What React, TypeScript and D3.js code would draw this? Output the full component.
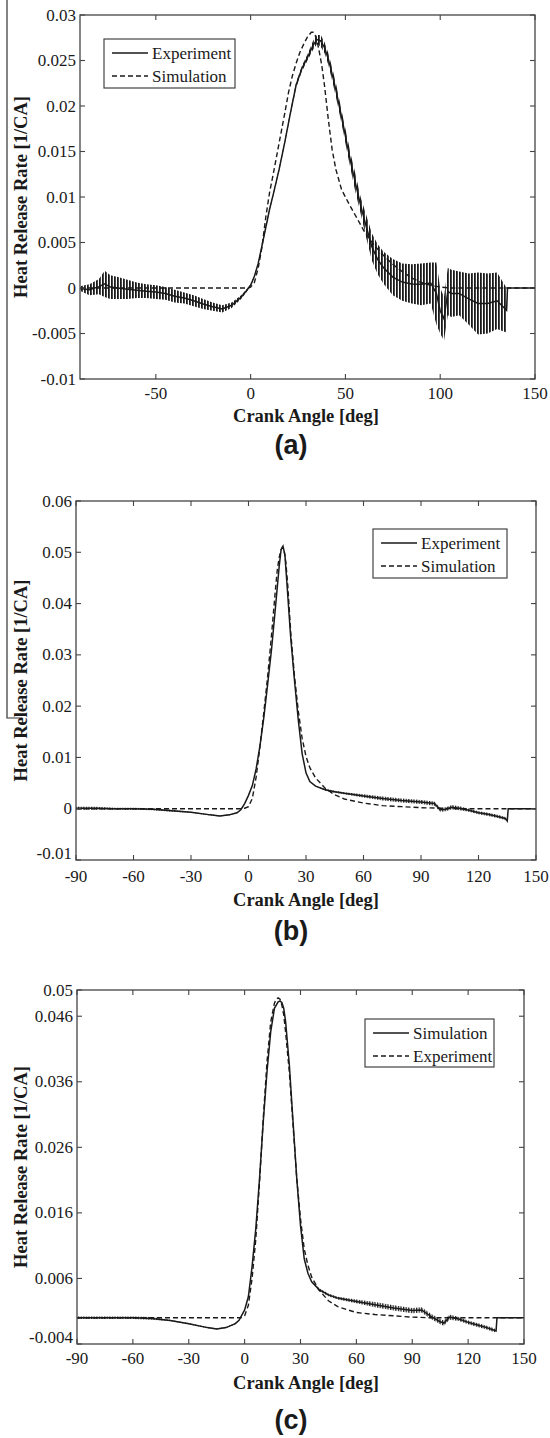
import React from "react";
import * as d3 from "d3";

// ---------------- Panel (a) ----------------
const aExpX = [-90, -85, -80, -77, -74, -70, -65, -60, -55, -50, -45, -40, -35, -30, -25, -20, -15, -10, -5, -2, 0, 2, 4, 6, 8, 10, 12, 15, 18, 21, 24, 27, 30, 33, 35, 37, 39, 41, 43, 45, 47, 49, 51, 53, 55, 58, 61, 64, 67, 70, 75, 80, 85, 90, 95, 98, 100, 102, 104, 106, 110, 115, 120, 125, 130, 135, 135.5, 150];
const aExpLo = [-0.0003, -0.0008, -0.0007, -0.001, -0.0012, -0.0012, -0.0012, -0.0011, -0.0011, -0.0012, -0.0013, -0.0016, -0.0017, -0.002, -0.0023, -0.0025, -0.0027, -0.0022, -0.0012, -0.0004, 0.0002, 0.0012, 0.0026, 0.0045, 0.0065, 0.0085, 0.0102, 0.0128, 0.0158, 0.019, 0.022, 0.0238, 0.025, 0.0262, 0.0268, 0.0265, 0.0258, 0.0245, 0.0228, 0.021, 0.019, 0.017, 0.0148, 0.0128, 0.0108, 0.0082, 0.0055, 0.003, 0.0015, 0.0005, -0.0008, -0.0014, -0.0017, -0.0019, -0.0017, -0.004, -0.005, -0.0058, -0.003, -0.0032, -0.003, -0.004, -0.0051, -0.005, -0.0045, -0.0049, 0, 0];
const aExpHi = [0.0002, 0.0004, 0.001, 0.0019, 0.0014, 0.0012, 0.0009, 0.0006, 0.0004, 0.0003, 0.0001, -0.0002, -0.0005, -0.0008, -0.0012, -0.0016, -0.0019, -0.0016, -0.0008, -0.0001, 0.0004, 0.0014, 0.0028, 0.0048, 0.0068, 0.0088, 0.0105, 0.0132, 0.0162, 0.0195, 0.0226, 0.0244, 0.0257, 0.0272, 0.0278, 0.0278, 0.027, 0.0258, 0.0242, 0.0225, 0.0205, 0.0185, 0.0165, 0.0145, 0.0128, 0.01, 0.008, 0.006, 0.0048, 0.004, 0.0032, 0.0027, 0.0026, 0.0027, 0.0028, 0.0028, 0, -0.001, 0.0022, 0.002, 0.0018, 0.0016, 0.0017, 0.0016, 0.0017, 0, 0, 0];
const aSimX = [-90, -2, 0, 2, 4, 6, 8, 10, 12, 14, 16, 18, 20, 22, 24, 26, 28, 30, 32, 33, 34, 35, 36, 37.5, 39, 41, 43, 45, 48, 52, 56, 60, 63, 66, 70, 75, 80, 85, 90, 95, 100, 105, 150];
const aSimY = [0, 0, 0.0001, 0.0006, 0.0022, 0.0045, 0.0078, 0.0105, 0.0126, 0.0148, 0.017, 0.0192, 0.0215, 0.0233, 0.0247, 0.0259, 0.0268, 0.0276, 0.0281, 0.0281, 0.0278, 0.0272, 0.0262, 0.0245, 0.0222, 0.0185, 0.0152, 0.013, 0.0108, 0.0092, 0.0077, 0.0062, 0.0053, 0.0045, 0.0036, 0.0026, 0.0018, 0.0011, 0.0006, 0.0003, 0.0001, 0, 0];
const aXTicks = [-50, 0, 50, 100, 150];
const aYTicks = [-0.01, -0.005, 0, 0.005, 0.01, 0.015, 0.02, 0.025, 0.03];
const aLegend = ["Experiment", "Simulation"];

// ---------------- Panel (b) ----------------
const bExpX = [-90, -80, -70, -60, -50, -40, -30, -20, -15, -10, -6, -4, -2, 0, 2, 4, 6, 8, 10, 12, 14, 16, 17, 18, 19, 20, 22, 24, 26, 28, 30, 32, 35, 40, 45, 50, 60, 70, 80, 90, 97, 100, 103, 106, 110, 115, 120, 125, 130, 134, 135, 135.5, 150];
const bExpY = [0.0001, 0.0001, 0, 0, -0.0001, -0.0004, -0.0007, -0.0012, -0.0014, -0.0012, -0.0008, -0.0002, 0.001, 0.0026, 0.0045, 0.0078, 0.0123, 0.0178, 0.0243, 0.031, 0.039, 0.0472, 0.0505, 0.0512, 0.0495, 0.0442, 0.0335, 0.025, 0.0172, 0.0107, 0.007, 0.0053, 0.0044, 0.0037, 0.0033, 0.003, 0.0025, 0.002, 0.0016, 0.0013, 0.001, -0.0002, -0.0001, 0.0003, 0.0001, -0.0003, -0.0008, -0.0011, -0.0015, -0.0019, -0.0024, 0, 0];
const bExpJitter = [0.0003, 0.0003, 0.0002, 0.0002, 0.0002, 0.0002, 0.0001, 0.0001, 0.0001, 0.0001, 0.0001, 0, 0, 0, 0, 0, 0, 0, 0, 0, 0, 0, 0, 0, 0, 0, 0, 0, 0, 0, 0, 0, 0, 0.0002, 0.0002, 0.0002, 0.0003, 0.0004, 0.0004, 0.0004, 0.0004, 0.0004, 0.0004, 0.0004, 0.0004, 0.0003, 0.0003, 0.0003, 0.0003, 0.0003, 0, 0, 0];
const bSimX = [-90, -4, -2, 0, 2, 4, 6, 8, 10, 12, 14, 15, 16, 17, 17.7, 18.5, 19.5, 20.5, 22, 24, 26, 28, 30, 32, 35, 40, 45, 50, 60, 70, 80, 90, 100, 110, 150];
const bSimY = [0, 0, 0.0001, 0.0004, 0.002, 0.0062, 0.0122, 0.0188, 0.0258, 0.0338, 0.0425, 0.0465, 0.049, 0.0505, 0.051, 0.0505, 0.048, 0.0435, 0.0345, 0.0258, 0.019, 0.0137, 0.0102, 0.008, 0.006, 0.004, 0.0027, 0.0019, 0.0011, 0.0006, 0.0004, 0.0002, 0.0001, 0, 0];
const bXTicks = [-90, -60, -30, 0, 30, 60, 90, 120, 150];
const bYTicks = [-0.01, 0, 0.01, 0.02, 0.03, 0.04, 0.05, 0.06];
const bLegend = ["Experiment", "Simulation"];

// ---------------- Panel (c) ----------------
const cSolidX = [-90, -80, -70, -60, -50, -40, -30, -20, -15, -10, -5, -3, 0, 2, 4, 6, 8, 10, 12, 14, 16, 18, 19, 20, 21, 22, 24, 26, 28, 30, 32, 34, 36, 40, 45, 50, 60, 70, 80, 90, 95, 100, 105, 107, 110, 115, 120, 125, 130, 134, 135, 135.5, 150];
const cSolidY = [0, 0, 0, 0, -0.0001, -0.0004, -0.0009, -0.0015, -0.0017, -0.0015, -0.0009, -0.0004, 0.0012, 0.0032, 0.0078, 0.0136, 0.0212, 0.0299, 0.0375, 0.0436, 0.0472, 0.0482, 0.0483, 0.0481, 0.0472, 0.0452, 0.0386, 0.0299, 0.0212, 0.0141, 0.009, 0.0068, 0.0055, 0.0043, 0.0035, 0.003, 0.0025, 0.002, 0.0015, 0.0011, 0.0012, 0.0002, -0.0006, -0.0008, 0.0001, -0.0002, -0.0007, -0.0011, -0.0015, -0.0019, -0.002, 0, 0];
const cSolidJitter = [0.0002, 0.0002, 0.0002, 0.0002, 0.0002, 0.0001, 0.0001, 0.0001, 0.0001, 0.0001, 0.0001, 0, 0, 0, 0, 0, 0, 0, 0, 0, 0, 0, 0, 0, 0, 0, 0, 0, 0, 0, 0, 0, 0, 0.0002, 0.0002, 0.0002, 0.0003, 0.0004, 0.0004, 0.0004, 0.0004, 0.0004, 0.0004, 0.0004, 0.0004, 0.0003, 0.0003, 0.0003, 0.0003, 0.0003, 0, 0, 0];
const cDashX = [-90, -2, 0, 2, 4, 6, 8, 10, 12, 14, 16, 17, 18, 19, 20, 21, 22, 24, 26, 28, 30, 32, 34, 36, 40, 45, 50, 60, 70, 80, 90, 100, 150];
const cDashY = [0, 0, 0.0003, 0.0019, 0.006, 0.012, 0.0207, 0.0304, 0.039, 0.0451, 0.048, 0.0486, 0.0488, 0.0486, 0.0477, 0.0462, 0.0436, 0.0375, 0.0294, 0.0212, 0.0151, 0.0105, 0.008, 0.0062, 0.0042, 0.0026, 0.0017, 0.0008, 0.0005, 0.0003, 0.0001, 0, 0];
const cXTicks = [-90, -60, -30, 0, 30, 60, 90, 120, 150];
const cYTicks = [-0.004, 0.006, 0.016, 0.026, 0.036, 0.046, 0.05];
const cLegend = ["Simulation", "Experiment"];

const SERIF = "'Liberation Serif', 'Times New Roman', serif";
const SANS = "'Liberation Sans', Arial, sans-serif";
const INK = "#1a1a1a";
const AXIS = "#444";
const DASH = "5,3";

type Pt = { x: number; lo: number; hi: number; m: number };

function zipBand(xs: number[], lo: number[], hi: number[]): Pt[] {
  return xs.map((x, i) => ({ x, lo: lo[i], hi: hi[i], m: (lo[i] + hi[i]) / 2 }));
}
function zipJitter(xs: number[], ys: number[], j: number[]): Pt[] {
  return xs.map((x, i) => ({ x, lo: ys[i] - j[i], hi: ys[i] + j[i], m: ys[i] }));
}
function zipLine(xs: number[], ys: number[]): Pt[] {
  return xs.map((x, i) => ({ x, lo: ys[i], hi: ys[i], m: ys[i] }));
}

type PanelProps = {
  box: { left: number; right: number; top: number; bottom: number };
  yDomain: [number, number];
  xTicks: number[];
  yTicks: number[];
  solid: Pt[];
  dashed: Pt[];
  pattern: string;
  legend: string[];
  legendBox: { x: number; y: number; w: number; h: number };
  tickLabelY: number;
  titleY: number;
  letter: string;
  letterY: number;
};

function Panel(p: PanelProps) {
  const { box } = p;
  const x = d3.scaleLinear().domain([-90, 150]).range([box.left, box.right]);
  const y = d3.scaleLinear().domain(p.yDomain).range([box.bottom, box.top]);
  const line = d3
    .line<Pt>()
    .x((d) => x(d.x))
    .y((d) => y(d.m));
  const area = d3
    .area<Pt>()
    .x((d) => x(d.x))
    .y0((d) => y(d.lo))
    .y1((d) => y(d.hi));
  const tl = 5;
  const lb = p.legendBox;
  const midY = (box.top + box.bottom) / 2;
  const yMin = p.yDomain[0];
  return (
    <g>
      {/* curves */}
      <path d={line(p.dashed) || ""} fill="none" stroke={INK} strokeWidth={1.4} strokeDasharray={DASH} />
      <path d={area(p.solid) || ""} fill={`url(#${p.pattern})`} stroke="none" />
      <path d={line(p.solid) || ""} fill="none" stroke={INK} strokeWidth={1.5} />
      {/* frame */}
      <rect x={box.left} y={box.top} width={box.right - box.left} height={box.bottom - box.top} fill="none" stroke={AXIS} strokeWidth={1.3} />
      {p.xTicks.map((t) => (
        <g key={"xt" + t}>
          <line x1={x(t)} x2={x(t)} y1={box.bottom} y2={box.bottom - tl} stroke={AXIS} strokeWidth={1.1} />
          <line x1={x(t)} x2={x(t)} y1={box.top} y2={box.top + tl} stroke={AXIS} strokeWidth={1.1} />
          <text x={x(t)} y={p.tickLabelY} textAnchor="middle" dominantBaseline="central" fontFamily={SERIF} fontSize={17} fill={INK}>
            {String(t)}
          </text>
        </g>
      ))}
      {p.yTicks.map((t) => (
        <g key={"yt" + t}>
          <line x1={box.left} x2={box.left + tl} y1={y(t)} y2={y(t)} stroke={AXIS} strokeWidth={1.1} />
          <line x1={box.right} x2={box.right - tl} y1={y(t)} y2={y(t)} stroke={AXIS} strokeWidth={1.1} />
          <text x={box.left - 4} y={y(t) - (t === yMin && p.xTicks[0] === -90 ? 7 : 0)} textAnchor="end" dominantBaseline="central" fontFamily={SERIF} fontSize={17} fill={INK}>
            {String(t)}
          </text>
        </g>
      ))}
      {/* legend */}
      <rect x={lb.x} y={lb.y} width={lb.w} height={lb.h} fill="#fff" stroke={AXIS} strokeWidth={1.2} />
      {p.legend.map((name, i) => {
        const ry = lb.y + 14 + i * 23;
        return (
          <g key={name}>
            <line x1={lb.x + 8} x2={lb.x + 44} y1={ry} y2={ry} stroke={INK} strokeWidth={1.5} strokeDasharray={i === 0 ? undefined : DASH} />
            <text x={lb.x + 48} y={ry} dominantBaseline="central" fontFamily={SERIF} fontSize={17} fill={INK}>
              {name}
            </text>
          </g>
        );
      })}
      {/* titles */}
      <text x={306} y={p.titleY} textAnchor="middle" dominantBaseline="central" fontFamily={SERIF} fontWeight="bold" fontSize={18.5} fill={INK}>
        Crank Angle [deg]
      </text>
      <text transform={`translate(27,${midY}) rotate(-90)`} textAnchor="middle" fontFamily={SERIF} fontWeight="bold" fontSize={18.5} fill={INK}>
        Heat Release Rate [1/CA]
      </text>
      <text x={291} y={p.letterY} textAnchor="middle" dominantBaseline="central" fontFamily={SANS} fontWeight="bold" fontSize={27} fill={INK}>
        {p.letter}
      </text>
    </g>
  );
}

export default function App() {
  const a = {
    solid: zipBand(aExpX, aExpLo, aExpHi),
    dashed: zipLine(aSimX, aSimY),
  };
  const b = {
    solid: zipJitter(bExpX, bExpY, bExpJitter),
    dashed: zipLine(bSimX, bSimY),
  };
  const c = {
    solid: zipJitter(cSolidX, cSolidY, cSolidJitter),
    dashed: zipLine(cDashX, cDashY),
  };
  return (
    <div style={{ position: "absolute", left: 0, top: 0, width: 550, height: 1438, background: "#fff" }}>
      <svg width={550} height={1438} style={{ display: "block" }}>
        <defs>
          <pattern id="barsA" width={3} height={20} patternUnits="userSpaceOnUse">
            <rect x={0} y={0} width={1.8} height={20} fill={INK} />
          </pattern>
          <pattern id="barsB" width={2.6} height={20} patternUnits="userSpaceOnUse">
            <rect x={0} y={0} width={1.3} height={20} fill={INK} />
          </pattern>
        </defs>
        <rect x={0} y={0} width={550} height={1438} fill="#fff" />
        <path d="M7,0 V718 H22" fill="none" stroke="#333" strokeWidth={1.2} />
        <Panel
          box={{ left: 80, right: 535, top: 15, bottom: 379 }}
          yDomain={[-0.01, 0.03]}
          xTicks={aXTicks}
          yTicks={aYTicks}
          solid={a.solid}
          dashed={a.dashed}
          pattern="barsA"
          legend={aLegend}
          legendBox={{ x: 104, y: 39, w: 131, h: 49 }}
          tickLabelY={393}
          titleY={416}
          letter="(a)"
          letterY={445}
        />
        <Panel
          box={{ left: 76, right: 536, top: 501, bottom: 860 }}
          yDomain={[-0.01, 0.06]}
          xTicks={bXTicks}
          yTicks={bYTicks}
          solid={b.solid}
          dashed={b.dashed}
          pattern="barsB"
          legend={bLegend}
          legendBox={{ x: 373, y: 529, w: 134, h: 49 }}
          tickLabelY={876}
          titleY={900}
          letter="(b)"
          letterY={931}
        />
        <Panel
          box={{ left: 77, right: 524, top: 990, bottom: 1344 }}
          yDomain={[-0.004, 0.05]}
          xTicks={cXTicks}
          yTicks={cYTicks}
          solid={c.solid}
          dashed={c.dashed}
          pattern="barsB"
          legend={cLegend}
          legendBox={{ x: 365, y: 1019, w: 129, h: 48 }}
          tickLabelY={1358}
          titleY={1383}
          letter="(c)"
          letterY={1420}
        />
      </svg>
    </div>
  );
}
